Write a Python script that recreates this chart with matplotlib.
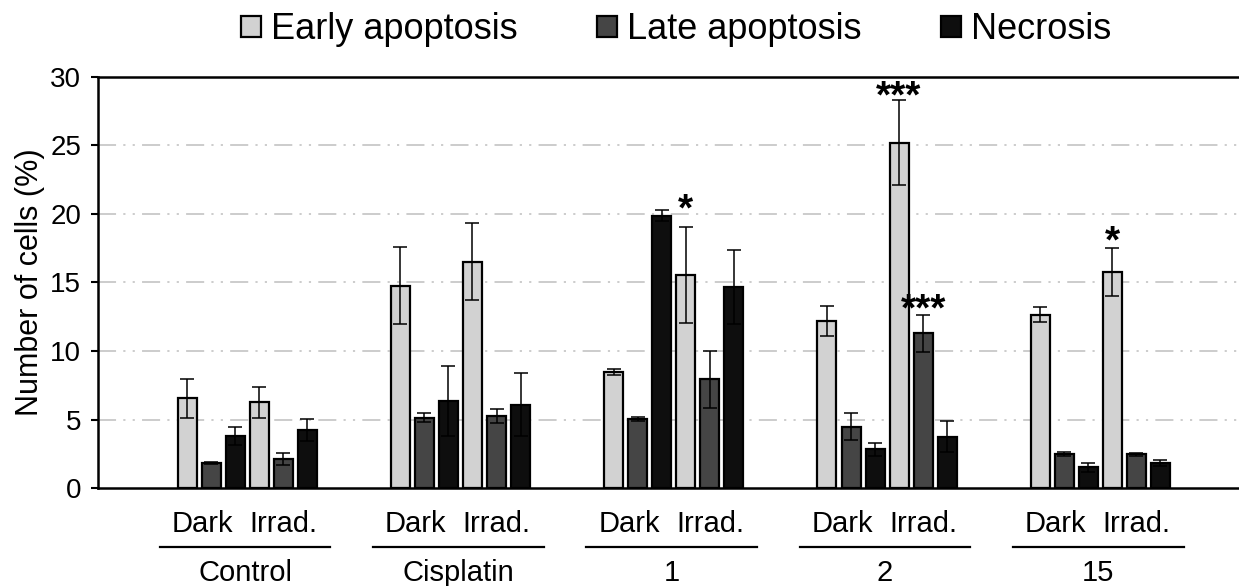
import matplotlib.pyplot as plt
import numpy as np

plt.rcParams['font.family'] = ['Liberation Sans', 'DejaVu Sans']

groups = ['Control', 'Cisplatin', '1', '2', '15']
conditions = ['Dark', 'Irrad.']
series = ['Early apoptosis', 'Late apoptosis', 'Necrosis']
colors = ['#d2d2d2', '#454545', '#0e0e0e']

# [dark, irrad] for each group
early = [[6.55, 6.25], [14.77, 16.52], [8.47, 15.55], [12.21, 25.2], [12.65, 15.74]]
early_err = [[1.4, 1.1], [2.8, 2.8], [0.25, 3.5], [1.1, 3.1], [0.55, 1.75]]
late = [[1.83, 2.12], [5.13, 5.26], [5.04, 7.93], [4.48, 11.29], [2.48, 2.48]]
late_err = [[0.08, 0.43], [0.32, 0.48], [0.12, 2.1], [0.97, 1.36], [0.12, 0.1]]
necrosis = [[3.8, 4.23], [6.35, 6.08], [19.85, 14.7], [2.82, 3.75], [1.51, 1.83]]
necrosis_err = [[0.67, 0.8], [2.55, 2.3], [0.4, 2.7], [0.45, 1.15], [0.3, 0.2]]

# significance marks: (group, condition, series, text, offset pt)
sig_marks = [(2, 1, 0, '*', 4.5), (3, 1, 0, '***', -5), (3, 1, 1, '***', -4.5), (4, 1, 0, '*', -3)]

values = [np.array(early), np.array(late), np.array(necrosis)]
errors = [np.array(early_err), np.array(late_err), np.array(necrosis_err)]

fig = plt.figure(figsize=(12.39, 5.86), dpi=100)
ax = fig.add_axes([0.079, 0.167, 0.921, 0.702])

pitch = 0.1127
width = 0.089
gx = np.arange(len(groups))

def xpos(cond, s):
    return gx + (cond * 3 + s - 2.5) * pitch

handles = []
for cond in range(2):
    for s in range(3):
        b = ax.bar(xpos(cond, s), values[s][:, cond], width, color=colors[s],
                   edgecolor='black', linewidth=1.6, zorder=3,
                   yerr=errors[s][:, cond],
                   error_kw=dict(ecolor='black', elinewidth=1.1, capsize=5, capthick=1.1, zorder=4))
        if cond == 0:
            handles.append(b)

for g, cond, s, txt, off in sig_marks:
    top = values[s][g, cond] + errors[s][g, cond]
    ax.annotate(txt, (xpos(cond, s)[g], top), xytext=(0, off), textcoords='offset points',
                ha='center', va='baseline', fontsize=28, fontweight='bold', zorder=5)

ax.set_xlim(-0.70, 4.65)
ax.set_ylim(0, 30)
ax.set_yticks(range(0, 31, 5))
ax.set_xticks([])
ax.tick_params(axis='y', labelsize=20, width=1.5, length=5, pad=7)
ax.set_ylabel('Number of cells (%)', fontsize=22, labelpad=4)

for y in range(5, 30, 5):
    ax.axhline(y, color='#c8c8c8', linewidth=1.3, linestyle=(0, (10, 4, 1.2, 4, 1.2, 4)), zorder=1)

ax.spines['right'].set_visible(False)
for sp in ['left', 'bottom', 'top']:
    ax.spines[sp].set_linewidth(1.8)

trans = ax.get_xaxis_transform()
for g, name in enumerate(groups):
    ax.text(g - 0.21, -0.088, conditions[0], transform=trans, ha='center', va='center', fontsize=21)
    ax.text(g + 0.17, -0.088, conditions[1], transform=trans, ha='center', va='center', fontsize=21)
    ax.plot([g - 0.41, g + 0.39], [-0.144, -0.144], transform=trans, color='black',
            linewidth=1.6, clip_on=False)
    ax.text(g - 0.01, -0.207, name, transform=trans, ha='center', va='center', fontsize=21)

fig.legend(handles, series, loc='center', bbox_to_anchor=(0.5456, 0.949), ncol=3,
           frameon=False, fontsize=26, handlelength=0.55, handleheight=0.55,
           handletextpad=0.28, columnspacing=2.2)

fig.savefig('out.png', dpi=100)
